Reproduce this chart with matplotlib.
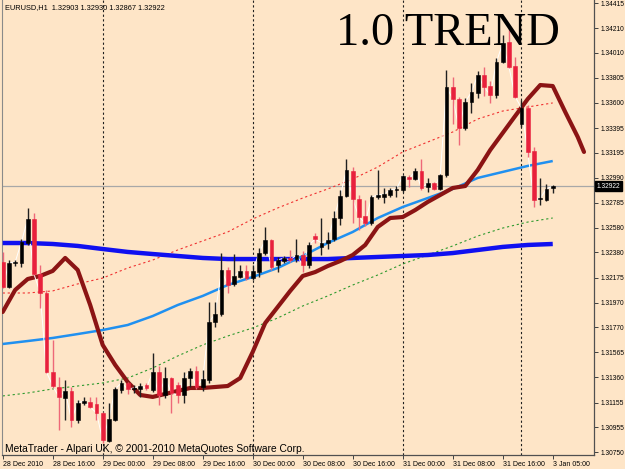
import matplotlib
matplotlib.use("Agg")
import matplotlib.pyplot as plt
import matplotlib.transforms as mtransforms
import numpy as np

# ---------------- data (EURUSD H1) ----------------
opens = [1.32302, 1.32098, 1.32294, 1.32294, 1.32457, 1.32653, 1.32204, 1.32049, 1.31405, 1.31282,
         1.31192, 1.31250, 1.31012, 1.31152, 1.31160, 1.31143, 1.31070, 1.30841, 1.31012, 1.31258,
         1.31315, 1.31266, 1.31266, 1.31298, 1.31258, 1.31405, 1.31217, 1.31355, 1.31298, 1.31217,
         1.31355, 1.31413, 1.31282, 1.31339, 1.31812, 1.31878, 1.32237, 1.32123, 1.32180, 1.32229,
         1.32171, 1.32220, 1.32375, 1.32482, 1.32278, 1.32310, 1.32335, 1.32326, 1.32359, 1.32278,
         1.32514, 1.32425, 1.32457, 1.32490, 1.32661, 1.32841, 1.33045, 1.32816, 1.32677, 1.32620,
         1.32832, 1.32832, 1.32849, 1.32890, 1.32890, 1.32996, 1.32979, 1.33045, 1.32914, 1.32947,
         1.32898, 1.33012, 1.33730, 1.33632, 1.33396, 1.33608, 1.33681, 1.33828, 1.33738, 1.33665,
         1.33934, 1.34097, 1.33901, 1.33428, 1.33559, 1.33208, 1.32816, 1.32808, 1.32903]
highs = [1.32384, 1.32318, 1.32318, 1.32490, 1.32743, 1.32702, 1.32278, 1.32074, 1.31666, 1.31364,
         1.31339, 1.31282, 1.31176, 1.31201, 1.31201, 1.31201, 1.31078, 1.31152, 1.31282, 1.31339,
         1.31323, 1.31298, 1.31315, 1.31315, 1.31560, 1.31454, 1.31445, 1.31364, 1.31323, 1.31405,
         1.31437, 1.31454, 1.31421, 1.31976, 1.31976, 1.32375, 1.32261, 1.32367, 1.32278, 1.32278,
         1.32278, 1.32416, 1.32588, 1.32490, 1.32343, 1.32351, 1.32400, 1.32490, 1.32392, 1.32465,
         1.32539, 1.32661, 1.32547, 1.32718, 1.32890, 1.33143, 1.33077, 1.32849, 1.32808, 1.32849,
         1.33053, 1.32906, 1.32906, 1.32922, 1.33012, 1.33012, 1.33069, 1.33143, 1.32988, 1.32955,
         1.33020, 1.33869, 1.33812, 1.33649, 1.33640, 1.33763, 1.33861, 1.33893, 1.33779, 1.33967,
         1.34154, 1.34220, 1.33975, 1.33624, 1.33583, 1.33240, 1.32988, 1.32939, 1.32930]
lows = [1.32090, 1.32090, 1.32269, 1.32261, 1.32441, 1.32196, 1.31927, 1.31396, 1.31274, 1.30931,
        1.31012, 1.30956, 1.30988, 1.31135, 1.31111, 1.31012, 1.30825, 1.30833, 1.31004, 1.31233,
        1.31225, 1.31233, 1.31201, 1.31258, 1.31241, 1.31135, 1.31192, 1.31070, 1.31152, 1.31152,
        1.31282, 1.31266, 1.31250, 1.31315, 1.31772, 1.31861, 1.32049, 1.32106, 1.32171, 1.32155,
        1.32155, 1.32180, 1.32359, 1.32237, 1.32220, 1.32294, 1.32302, 1.32302, 1.32220, 1.32253,
        1.32457, 1.32359, 1.32408, 1.32474, 1.32604, 1.32832, 1.32620, 1.32563, 1.32596, 1.32604,
        1.32816, 1.32784, 1.32832, 1.32832, 1.32873, 1.32914, 1.32971, 1.32890, 1.32873, 1.32890,
        1.32890, 1.32996, 1.33428, 1.33257, 1.33379, 1.33518, 1.33640, 1.33657, 1.33600, 1.33640,
        1.33926, 1.33885, 1.33640, 1.33404, 1.33159, 1.32751, 1.32767, 1.32800, 1.32867]
closes = [1.32098, 1.32294, 1.32302, 1.32465, 1.32653, 1.32204, 1.32049, 1.31405, 1.31290, 1.31201,
          1.31250, 1.31012, 1.31152, 1.31168, 1.31119, 1.31070, 1.30850, 1.31021, 1.31266, 1.31315,
          1.31266, 1.31274, 1.31290, 1.31274, 1.31405, 1.31217, 1.31355, 1.31233, 1.31217, 1.31355,
          1.31413, 1.31282, 1.31347, 1.31812, 1.31878, 1.32237, 1.32114, 1.32188, 1.32229, 1.32171,
          1.32229, 1.32375, 1.32482, 1.32261, 1.32318, 1.32335, 1.32318, 1.32359, 1.32278, 1.32441,
          1.32490, 1.32457, 1.32482, 1.32661, 1.32841, 1.33053, 1.32816, 1.32669, 1.32620, 1.32832,
          1.32849, 1.32857, 1.32890, 1.32898, 1.33004, 1.32979, 1.33045, 1.32906, 1.32947, 1.32898,
          1.33012, 1.33730, 1.33632, 1.33396, 1.33608, 1.33689, 1.33828, 1.33730, 1.33665, 1.33934,
          1.34089, 1.33893, 1.33649, 1.33559, 1.33200, 1.32808, 1.32824, 1.32898, 1.32922]

# indicator values read every 4 bars (bars 0, 4, ..., 88)
slow_ma = [1.32457, 1.32457, 1.32449, 1.32433, 1.32408, 1.32384, 1.32367, 1.32351, 1.32335, 1.32326,
           1.32326, 1.32326, 1.32326, 1.32326, 1.32335, 1.32343, 1.32351, 1.32359, 1.32375, 1.32400,
           1.32425, 1.32441, 1.32449]
mid_ma = [1.31633, 1.31657, 1.31682, 1.31714, 1.31747, 1.31788, 1.31861, 1.31951, 1.32025, 1.32114,
          1.32180, 1.32253, 1.32351, 1.32457, 1.32547, 1.32661, 1.32751, 1.32824, 1.32898, 1.32988,
          1.33037, 1.33086, 1.33126]
upper_band = [1.32049, 1.32049, 1.32066, 1.32123, 1.32171, 1.32253, 1.32318, 1.32400, 1.32474, 1.32547,
              1.32653, 1.32743, 1.32824, 1.32898, 1.32979, 1.33077, 1.33200, 1.33281, 1.33363, 1.33469,
              1.33534, 1.33567, 1.33600]
lower_band = [1.31209, 1.31233, 1.31266, 1.31290, 1.31315, 1.31355, 1.31437, 1.31535, 1.31625, 1.31698,
              1.31764, 1.31845, 1.31943, 1.32025, 1.32114, 1.32196, 1.32286, 1.32359, 1.32433, 1.32514,
              1.32579, 1.32628, 1.32661]
# "1.0 TREND" line (shifted forward), read every 2 bars
trend_bars = list(range(0, 93, 2)) + [93]
trend_vals = [1.31894, 1.32074, 1.32163, 1.32188, 1.32229, 1.32335, 1.32237, 1.31951, 1.31625, 1.31462,
              1.31323, 1.31217, 1.31201, 1.31225, 1.31250, 1.31274, 1.31274, 1.31282, 1.31290, 1.31355,
              1.31568, 1.31804, 1.31935, 1.32066, 1.32188, 1.32220, 1.32269, 1.32310, 1.32359, 1.32441,
              1.32588, 1.32661, 1.32669, 1.32726, 1.32792, 1.32849, 1.32906, 1.32922, 1.33053, 1.33216,
              1.33355, 1.33494, 1.33632, 1.33746, 1.33738, 1.33526, 1.33322, 1.33200]

price_ticks = [1.34415, 1.34210, 1.34010, 1.33805, 1.33600, 1.33395, 1.33195, 1.32990, 1.32785, 1.32580,
               1.32380, 1.32175, 1.31970, 1.31770, 1.31565, 1.31360, 1.31155, 1.30955, 1.30750]
time_tick_bars = [0, 8, 16, 24, 32, 40, 48, 56, 64, 72, 80, 88]
time_tick_labels = ["28 Dec 2010", "28 Dec 16:00", "29 Dec 00:00", "29 Dec 08:00", "29 Dec 16:00",
                    "30 Dec 00:00", "30 Dec 08:00", "30 Dec 16:00", "31 Dec 00:00", "31 Dec 08:00",
                    "31 Dec 16:00", "3 Jan 05:00"]
day_separator_bars = [16, 40, 64, 83]
symbol = "EURUSD,H1"

# ---------------- drawing ----------------
BG = "#FEE5C7"
SANS = ["Liberation Sans", "DejaVu Sans"]
fig = plt.figure(figsize=(6.25, 4.69), dpi=100, facecolor=BG)
ax = fig.add_axes([2 / 625, 14 / 469, 592 / 625, 455 / 469], facecolor=BG)

o = np.array(opens); h = np.array(highs); l = np.array(lows); c = np.array(closes)
x = np.arange(len(o))
ma_x = np.arange(0, 4 * len(slow_ma), 4)

# separators and bid line
for b in day_separator_bars:
    ax.axvline(b, color="#202020", lw=0.8, ls=(0, (2, 2.2)), zorder=1)
ax.axhline(closes[-1], color="#A8A8A8", lw=0.9, zorder=1)

# bands and MAs
ax.plot(ma_x, upper_band, color="#F03030", lw=0.8, ls=(0, (2, 2.5)), zorder=2)
ax.plot(ma_x, lower_band, color="#2E9A2E", lw=0.8, ls=(0, (2, 2.5)), zorder=2)
ax.plot(ma_x, slow_ma, color="#1010F0", lw=3.2, solid_capstyle="butt", zorder=3)
ax.plot(ma_x, mid_ma, color="#2090F0", lw=1.8, solid_capstyle="butt", zorder=3)
ax.plot(trend_bars, trend_vals, color="#8B1414", lw=3.0, solid_capstyle="round",
        solid_joinstyle="round", zorder=3)

# close line
ax.plot(x, c, color="white", lw=0.7, zorder=4)

# candles
up = c >= o
body_lo = np.minimum(o, c)
body_h = np.maximum(np.abs(c - o), 0.000025)
wick_col = np.where(up, "#202020", "#EE6878")
ax.vlines(x, l, h, colors=wick_col, lw=1.0, zorder=5)
ax.bar(x[up], body_h[up], bottom=body_lo[up], width=0.62, color="black",
       edgecolor="black", lw=0.4, zorder=6)
ax.bar(x[~up], body_h[~up], bottom=body_lo[~up], width=0.62, color="#E8203C",
       edgecolor="#E8203C", lw=0.4, zorder=6)

ax.set_xlim(-0.11, 94.6)
ax.set_ylim(1.30727, 1.34440)

# axes styling
TICKFS = 4.8
ax.yaxis.tick_right()
ax.set_yticks(price_ticks)
ax.set_yticklabels([f"{v:.5f}" for v in price_ticks], fontsize=TICKFS, family=SANS)
ax.set_xticks(time_tick_bars)
ax.set_xticklabels(time_tick_labels, fontsize=5.0, family=SANS, ha="left")
ax.tick_params(axis="y", direction="out", length=3, width=0.7, pad=1.5, color="#404040")
ax.tick_params(axis="x", direction="out", length=3, width=0.7, pad=1.5, color="#404040")
ax.spines["top"].set_visible(False)
ax.spines["left"].set_color("#8A8A8A")
ax.spines["left"].set_linewidth(0.8)
ax.spines["right"].set_color("#505050")
ax.spines["bottom"].set_color("#505050")
ax.spines["right"].set_linewidth(0.9)
ax.spines["bottom"].set_linewidth(0.9)

# current price tag
trans = mtransforms.blended_transform_factory(ax.transAxes, ax.transData)
ax.text(1.0045, closes[-1], f"{closes[-1]:.5f}", transform=trans, ha="left", va="center",
        fontsize=TICKFS, family=SANS, color="white", clip_on=False, zorder=10,
        bbox=dict(boxstyle="square,pad=0.2", fc="black", ec="black"))

# texts
fig.text(5 / 625, 1 - 8 / 469,
         f"{symbol}  {opens[-1]:.5f} {highs[-1]:.5f} {lows[-1]:.5f} {closes[-1]:.5f}",
         fontsize=5.3, family=SANS, va="center", ha="left")
fig.text(5 / 625, 1 - 449 / 469, "MetaTrader - Alpari UK, © 2001-2010 MetaQuotes Software Corp.",
         fontsize=7.35, family=SANS, va="center", ha="left", zorder=10)
fig.text(336 / 625, 1 - 45 / 469, "1.0 TREND", fontsize=33.5, family=["Liberation Serif", "DejaVu Serif"],
         va="baseline", ha="left")

fig.savefig("out.png", dpi=100, facecolor=BG)
